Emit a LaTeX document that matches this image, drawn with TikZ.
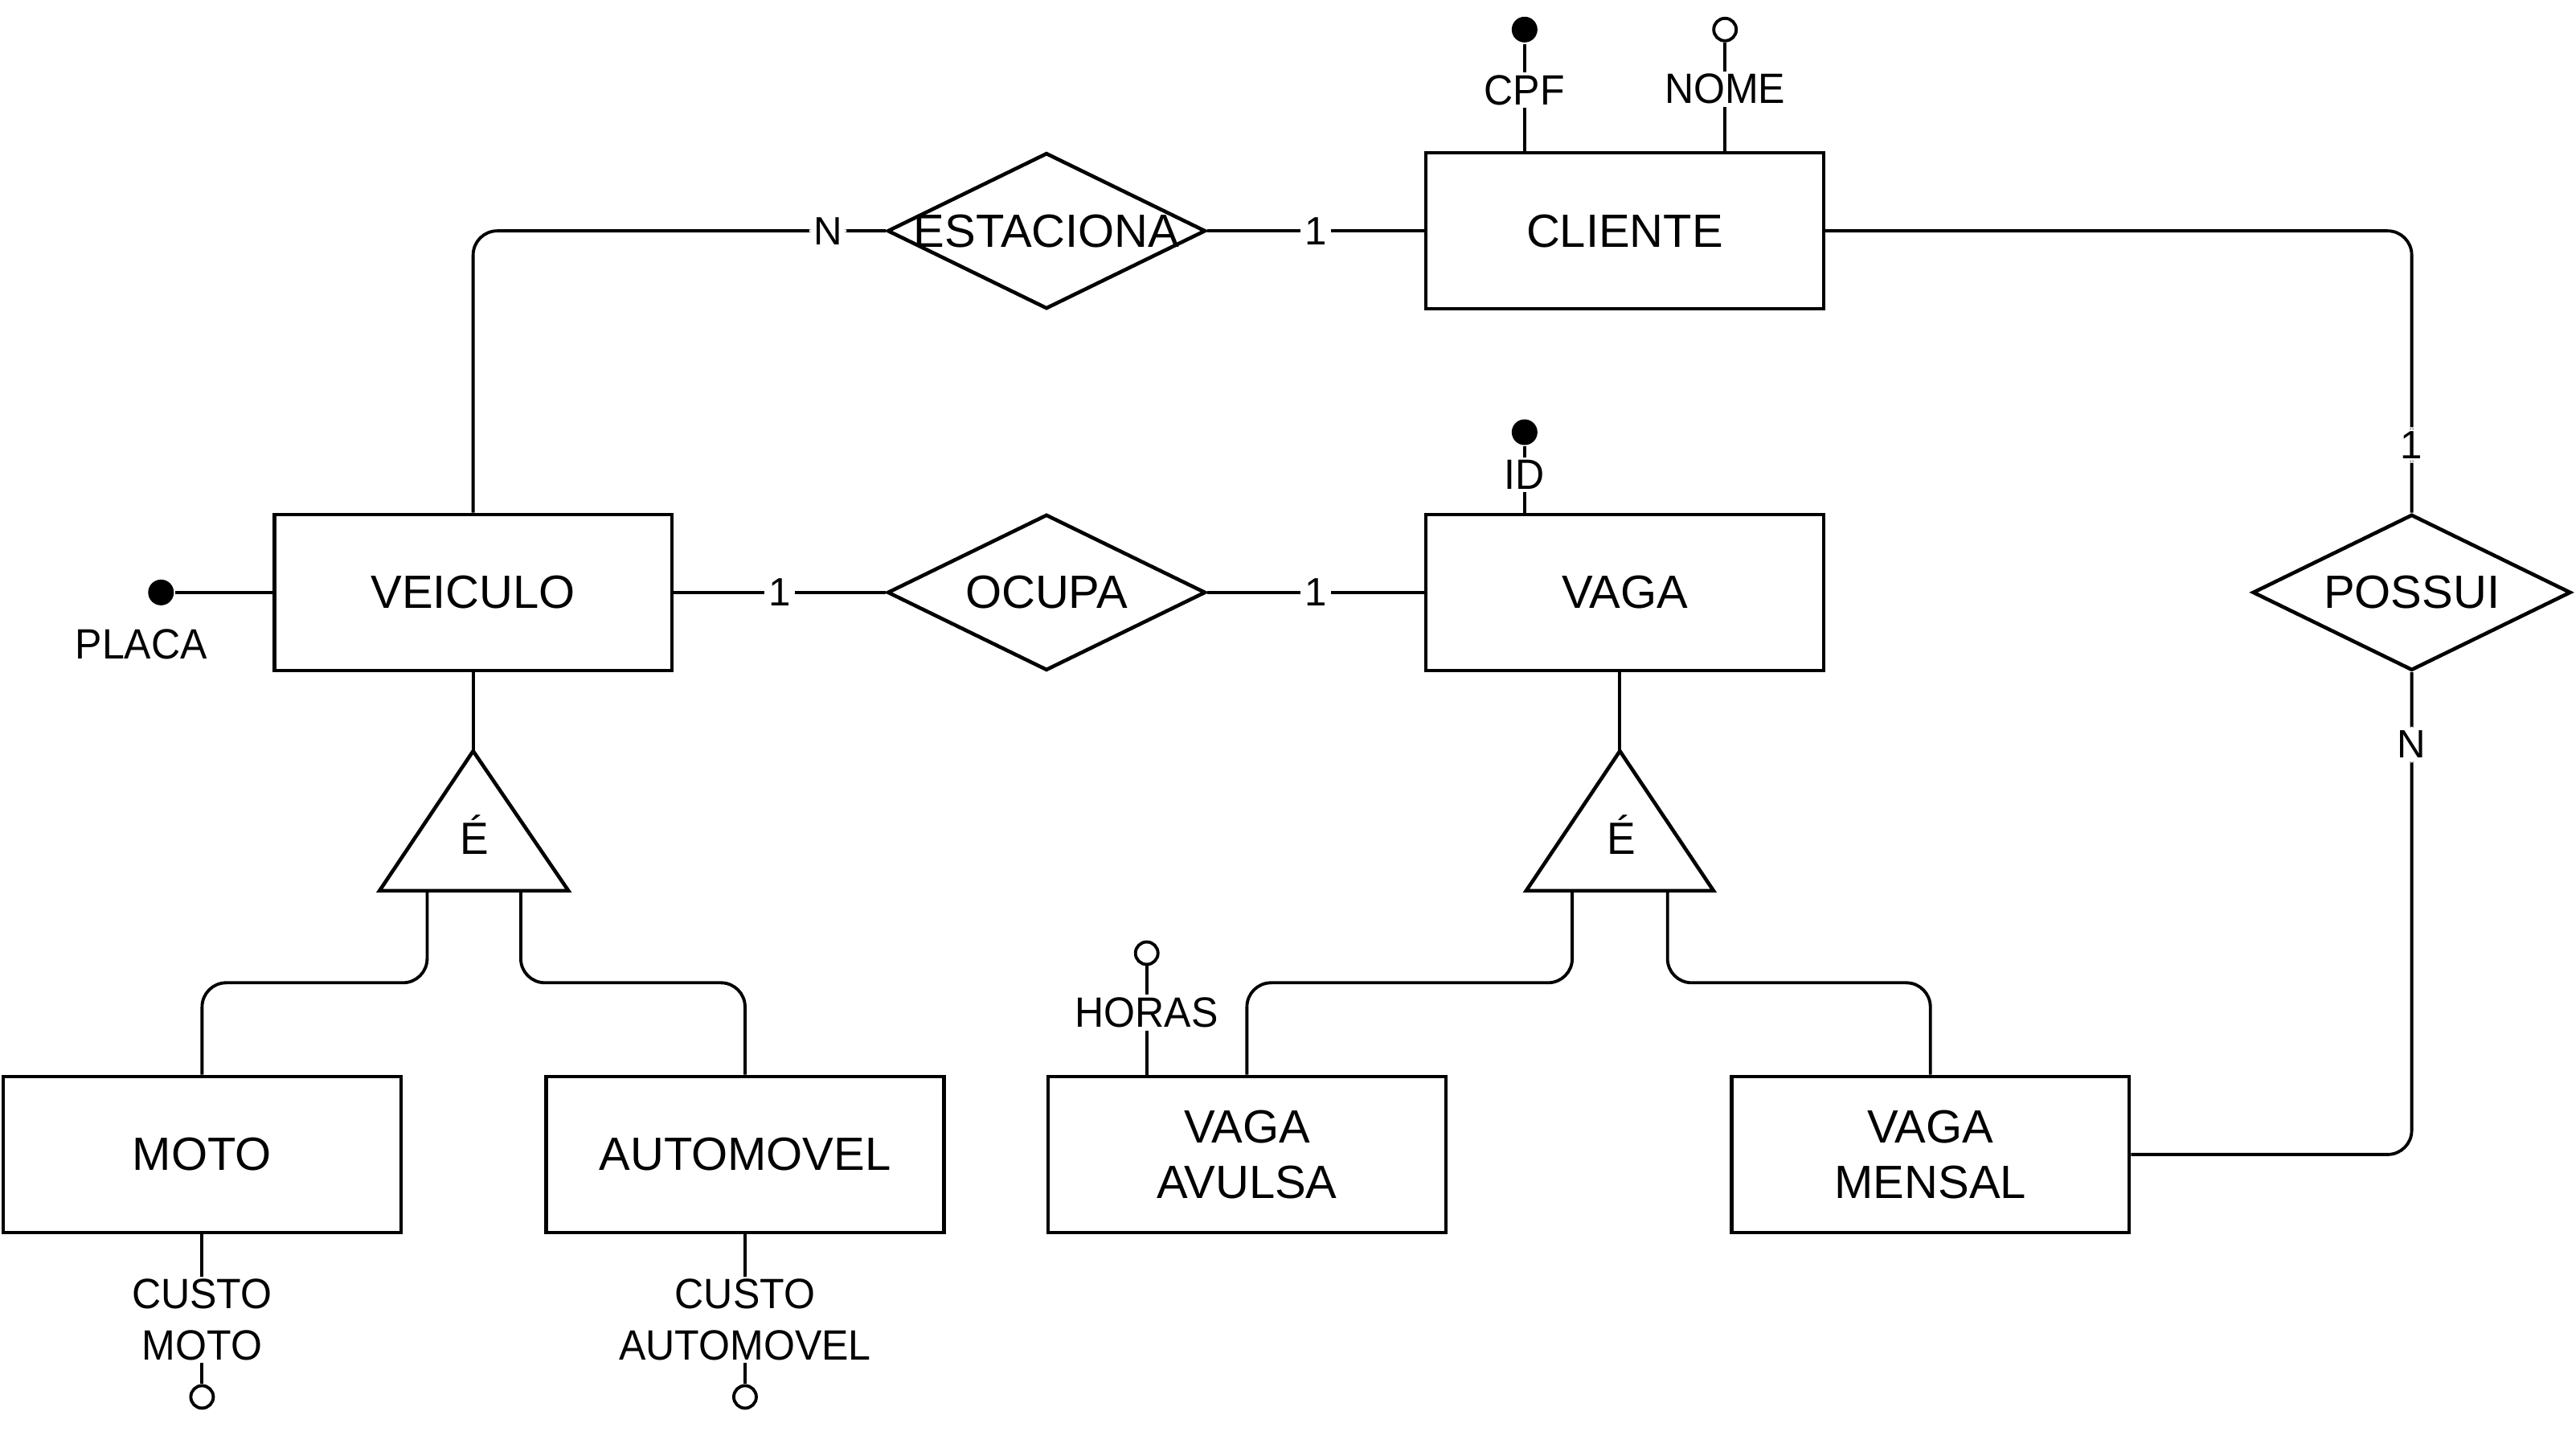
\documentclass[tikz,border=0pt]{standalone}
\usepackage{fontspec}
\setmainfont{Liberation Sans}
\newfontfamily\attrfont[FakeStretch=0.95]{Liberation Sans}
\usetikzlibrary{shapes.geometric,positioning}

\begin{document}
\begin{tikzpicture}[
  x=0.02044cm, y=-0.02044cm, line width=1.1pt,
  ent/.style={draw, line width=1.3pt, minimum width=4.95cm, minimum height=1.94cm, inner sep=0pt, align=center, font=\fontsize{16.5}{19.5}\selectfont},
  rel/.style={draw, diamond, line width=1.3pt, minimum width=3.96cm, minimum height=1.94cm, inner sep=0pt, font=\fontsize{16.5}{19.5}\selectfont},
  card/.style={fill=white, inner sep=1.5pt, font=\fontsize{14}{16}\selectfont},
  attrtxt/.style={inner sep=1pt, align=center, font=\attrfont\fontsize{15}{18}\selectfont},
  attr/.style={attrtxt, fill=white, pos=0.57},
  key/.style={circle, fill=black, minimum size=0.32cm, inner sep=0pt},
  opt/.style={circle, draw, fill=white, minimum size=0.28cm, inner sep=0pt},
  link/.style={rounded corners=0.3cm}]
\useasboundingbox (0,0) rectangle (1568,876);

% entidades
\node[ent] (cliente) at (989,140.5) {CLIENTE};
\node[ent] (veiculo) at (288,360.5) {VEICULO};
\node[ent] (vaga) at (989,360.5) {VAGA};
\node[ent] (moto) at (123,702.5) {MOTO};
\node[ent] (automovel) at (453.5,702.5) {AUTOMOVEL};
\node[ent] (avulsa) at (759,702.5) {VAGA\\AVULSA};
\node[ent] (mensal) at (1175,702.5) {VAGA\\MENSAL};

% relacionamentos
\node[rel] (estaciona) at (637,140.5) {\makebox[0pt]{ESTACIONA}};
\node[rel] (ocupa) at (637,360.5) {\makebox[0pt]{OCUPA}};
\node[rel] (possui) at (1468,360.5) {\makebox[0pt]{POSSUI}};

\draw[link] (veiculo.north) |- node[card, pos=0.93]{N} (estaciona.west);
\draw (estaciona.east) -- node[card]{1} (cliente.west);
\draw (veiculo.east) -- node[card]{1} (ocupa.west);
\draw (ocupa.east) -- node[card]{1} (vaga.west);
\draw[link] (cliente.east) -| node[card, pos=0.88]{1} (possui.north);
\draw[link] (possui.south) |- node[card, pos=0.075]{N} (mensal.east);

% especializacao de VEICULO
\coordinate (isaV) at (288,457);
\draw[line width=1.3pt] (isaV) -- (231,542) -- (346,542) -- cycle;
\node[font=\attrfont\fontsize{16}{19}\selectfont] (eV) at (289,508) {É};
\coordinate (isaVa) at (260,542);
\coordinate (isaVb) at (317,542);
\draw (veiculo.south) -- (isaV);
\draw[link] (isaVa) -- ++(0,56) -| (moto.north);
\draw[link] (isaVb) -- ++(0,56) -| (automovel.north);

% especializacao de VAGA
\coordinate (isaG) at (986,457);
\draw[line width=1.3pt] (isaG) -- (929,542) -- (1043,542) -- cycle;
\node[font=\attrfont\fontsize{16}{19}\selectfont] (eG) at (987,508) {É};
\coordinate (isaGa) at (957,542);
\coordinate (isaGb) at (1015,542);
\draw (isaG |- vaga.south) -- (isaG);
\draw[link] (isaGa) -- ++(0,56) -| (avulsa.north);
\draw[link] (isaGb) -- ++(0,56) -| (mensal.north);

% atributos
\node[key] (cpf) at (928,18) {};
\draw (cpf |- cliente.north) -- node[attr]{CPF} (cpf);
\node[opt] (nome) at (1050,18) {};
\draw (nome |- cliente.north) -- node[attr]{NOME} (nome);
\node[key] (id) at (928,263) {};
\draw (id |- vaga.north) -- node[attr]{ID} (id);
\node[key] (placa) at (98,360.5) {};
\draw (veiculo.west) -- (placa);
\node[attrtxt] (placatxt) at (86,392) {PLACA};
\node[opt] (horas) at (698,580) {};
\draw (horas |- avulsa.north) -- node[attr]{HORAS} (horas);
\node[opt] (cmoto) at (123,850) {};
\draw (moto.south) -- node[attr]{CUSTO\\MOTO} (cmoto);
\node[opt] (cauto) at (453.5,850) {};
\draw (automovel.south) -- node[attr]{CUSTO\\AUTOMOVEL} (cauto);
\end{tikzpicture}
\end{document}
